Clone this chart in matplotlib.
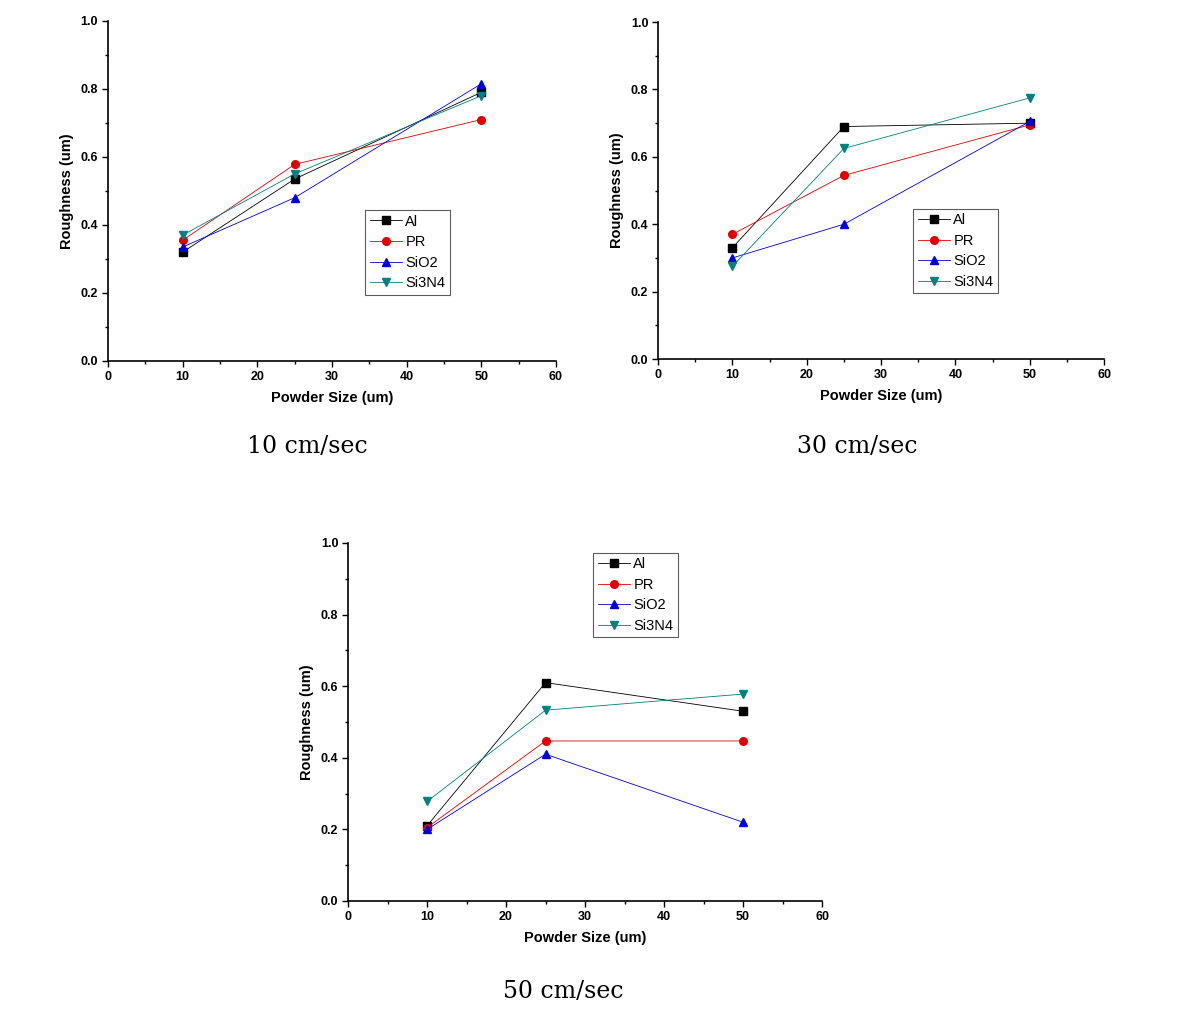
import matplotlib
matplotlib.use("Agg")
import matplotlib.pyplot as plt
from matplotlib.ticker import MultipleLocator

# Powder size (um)
sizes = [10, 25, 50]

# Roughness (um) at 10 cm/sec
al_10 = [0.32, 0.535, 0.79]
pr_10 = [0.355, 0.578, 0.71]
sio2_10 = [0.335, 0.48, 0.815]
si3n4_10 = [0.37, 0.55, 0.78]

# Roughness (um) at 30 cm/sec
al_30 = [0.33, 0.69, 0.70]
pr_30 = [0.37, 0.545, 0.695]
sio2_30 = [0.30, 0.40, 0.705]
si3n4_30 = [0.275, 0.625, 0.775]

# Roughness (um) at 50 cm/sec
al_50 = [0.21, 0.61, 0.53]
pr_50 = [0.205, 0.447, 0.447]
sio2_50 = [0.20, 0.41, 0.22]
si3n4_50 = [0.278, 0.533, 0.578]

labels = ["Al", "PR", "SiO2", "Si3N4"]
captions = ["10 cm/sec", "30 cm/sec", "50 cm/sec"]

colors = ["black", "#e00000", "#0000dd", "#008080"]
markers = ["s", "o", "^", "v"]

plt.rcParams['font.family'] = ['Liberation Sans', 'DejaVu Sans']

fig = plt.figure(figsize=(11.85, 10.22), dpi=100)

# axes rectangles in figure fractions
rects = [
    [0.0911, 0.6468, 0.378, 0.3327],
    [0.5553, 0.6487, 0.3764, 0.3297],
    [0.2937, 0.1184, 0.400, 0.3503],
]
legend_pos = [(0.558, 0.465), (0.556, 0.467), (0.502, 0.993)]
caption_pos = [(307 / 1185, 1 - 446 / 1022),
               (857 / 1185, 1 - 446 / 1022),
               (563 / 1185, 1 - 992 / 1022)]

data = [
    [al_10, pr_10, sio2_10, si3n4_10],
    [al_30, pr_30, sio2_30, si3n4_30],
    [al_50, pr_50, sio2_50, si3n4_50],
]

for i in range(3):
    ax = fig.add_axes(rects[i])
    for j, series in enumerate(data[i]):
        ax.plot(sizes, series, color=colors[j], marker=markers[j],
                markersize=5.5, linewidth=0.6, label=labels[j])

    ax.set_xlim(0, 60)
    ax.set_ylim(0, 1.0)
    ax.xaxis.set_major_locator(MultipleLocator(10))
    ax.xaxis.set_minor_locator(MultipleLocator(5))
    ax.yaxis.set_minor_locator(MultipleLocator(0.1))
    ax.set_yticks([0, 0.2, 0.4, 0.6, 0.8, 1.0])
    ax.set_yticklabels(["0.0", "0.2", "0.4", "0.6", "0.8", "1.0"])
    ax.spines['top'].set_visible(False)
    ax.spines['right'].set_visible(False)
    ax.spines['left'].set_linewidth(1.2)
    ax.spines['bottom'].set_linewidth(1.2)
    ax.tick_params(which='major', direction='out', length=4, width=1,
                   labelsize=9, pad=3)
    ax.tick_params(which='minor', direction='out', length=2.5, width=1)
    for lab in ax.get_xticklabels() + ax.get_yticklabels():
        lab.set_fontweight('bold')

    ax.set_xlabel("Powder Size (um)", fontsize=10.5, fontweight='bold',
                  labelpad=6)
    ax.set_ylabel("Roughness (um)", fontsize=10.5, fontweight='bold',
                  labelpad=5)

    leg = ax.legend(loc='upper left', bbox_to_anchor=legend_pos[i],
                    fontsize=10.5, frameon=True, fancybox=False,
                    edgecolor='#333333', borderpad=0.3, labelspacing=0.45,
                    handlelength=2.2, handletextpad=0.25, markerscale=1.0)
    leg.get_frame().set_linewidth(0.8)

    fig.text(caption_pos[i][0], caption_pos[i][1], captions[i],
             ha='center', va='center', fontsize=17,
             family=['DejaVu Serif'])

fig.savefig("out.png", dpi=100, facecolor='white')
